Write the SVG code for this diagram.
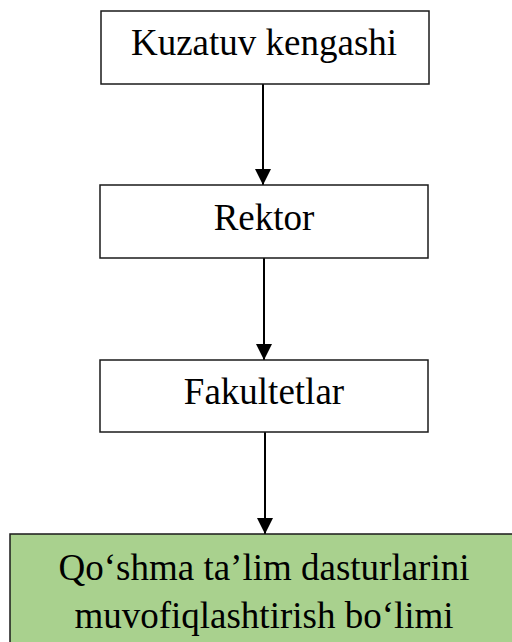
<svg xmlns="http://www.w3.org/2000/svg" width="512" height="642" viewBox="0 0 512 642">
<style>
.box{fill:#fff;stroke:#1a1a1a;stroke-width:1.5}
.green{fill:#a9d18e;stroke:#1a1a1a;stroke-width:1.5}
text{font-family:"Liberation Serif","Times New Roman",serif;font-size:37px;fill:#000;text-anchor:middle}
.c{stroke:#000;stroke-width:2;fill:none}
</style>
<defs>
<marker id="ah" markerWidth="16" markerHeight="16" viewBox="0 0 16 16" refX="16" refY="8" orient="auto" markerUnits="userSpaceOnUse">
<path d="M0,0 L16,8 L0,16 Z" fill="#000"/>
</marker>
</defs>
<rect width="512" height="642" fill="#fff"/>
<g id="connectors">
<line class="c" x1="263" y1="84" x2="263" y2="185" marker-end="url(#ah)"/>
<line class="c" x1="264" y1="258" x2="264" y2="360" marker-end="url(#ah)"/>
<line class="c" x1="265" y1="432" x2="265" y2="534" marker-end="url(#ah)"/>
</g>
<g id="kuzatuv">
<rect class="box" x="101" y="11" width="328" height="73"/>
<text x="264" y="55">Kuzatuv kengashi</text>
</g>
<g id="rektor">
<rect class="box" x="100" y="185" width="328" height="73"/>
<text x="264" y="230">Rektor</text>
</g>
<g id="fakultetlar">
<rect class="box" x="100" y="360" width="328" height="72"/>
<text x="264" y="404">Fakultetlar</text>
</g>
<g id="bolim">
<rect class="green" x="10" y="534" width="510" height="120"/>
<text x="264" y="580">Qo‘shma ta’lim dasturlarini</text>
<text x="264" y="628">muvofiqlashtirish bo‘limi</text>
</g>
</svg>
